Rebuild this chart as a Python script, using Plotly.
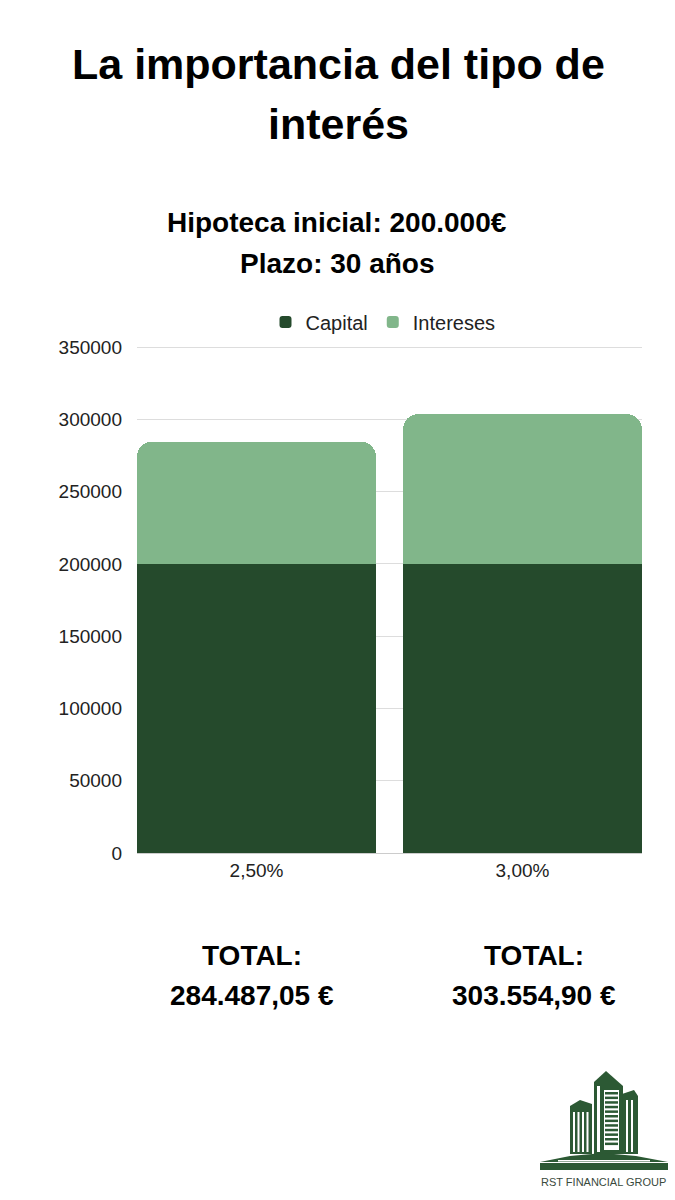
import plotly.graph_objects as go

# ---- data ----
categories = ["2,50%", "3,00%"]
capital = [200000, 200000]
intereses = [84487.05, 103554.90]
total_labels = ["284.487,05 €", "303.554,90 €"]
series_names = ["Capital", "Intereses"]
y_ticks = [0, 50000, 100000, 150000, 200000, 250000, 300000, 350000]

DARK = "#254a2c"
LIGHT = "#81b68a"
LOGO = "#2c5934"
FONT = "Liberation Sans, Arial, sans-serif"

W, H = 675, 1200
L, R, T, B = 137, 33, 345, 347
PW, PH = W - L - R, H - T - B
Y_TOP = 350000 * PH / 506.0  # keeps 350000 at the same pixel row, gridline visible


def px(x):
    return (x - L) / PW


def py(y):
    return (H - B - y) / PH


fig = go.Figure()
fig.add_bar(x=categories, y=capital, name=series_names[0], marker=dict(color=DARK, line=dict(width=0)))
fig.add_bar(x=categories, y=intereses, name=series_names[1], marker=dict(color=LIGHT, line=dict(width=0)))

annotations = []


def text(x, y, s, size, bold=True, color="#000000"):
    annotations.append(dict(
        x=px(x), y=py(y), xref="paper", yref="paper", xanchor="center", yanchor="middle",
        text=("<b>%s</b>" % s) if bold else s, showarrow=False,
        font=dict(family=FONT, size=size, color=color)))


text(338, 64, "La importancia del tipo de", 43)
text(338, 124, "interés", 43)
text(337, 222, "Hipoteca inicial: 200.000€", 28)
text(337, 263, "Plazo: 30 años", 28)
for cx, lab in zip([252, 534], total_labels):
    text(cx, 955, "TOTAL:", 28)
    text(cx, 995, lab, 28)
text(603, 1182, "RST FINANCIAL GROUP", 11, bold=False, color="#3a4a3c")

# ---- logo (decorative shapes) ----
shapes = []


def rect(x0, y0, x1, y1, color):
    shapes.append(dict(type="rect", xref="paper", yref="paper", x0=px(x0), x1=px(x1),
                       y0=py(y1), y1=py(y0), fillcolor=color, line=dict(width=0), layer="above"))


def poly(pts, color):
    path = "M " + " L ".join("%f,%f" % (px(a), py(b)) for a, b in pts) + " Z"
    shapes.append(dict(type="path", xref="paper", yref="paper", path=path,
                       fillcolor=color, line=dict(width=0), layer="above"))


# left building
poly([(570, 1106), (580, 1100), (592, 1104), (592, 1154), (570, 1154)], LOGO)
for i in range(4):
    rect(573 + i * 4.5, 1112, 575 + i * 4.5, 1152, "white")
# right building
poly([(622, 1094), (634, 1090), (638, 1096), (638, 1154), (622, 1154)], LOGO)
rect(626, 1100, 628, 1152, "white")
rect(631, 1100, 633, 1152, "white")
# centre tower
poly([(594, 1082), (606, 1071), (623, 1086), (623, 1154), (594, 1154)], LOGO)
rect(604, 1090, 619, 1150, "white")
for k in range(12):
    rect(605, 1092 + k * 4.6, 618, 1094.5 + k * 4.6, LOGO)
rect(597, 1086, 600, 1152, "white")
# base dome and slab
poly([(540, 1162), (570, 1156), (603, 1153), (636, 1156), (668, 1162)], LOGO)
rect(540, 1163, 668, 1170, LOGO)
rect(558, 1160, 650, 1161.5, "white")

fig.update_layout(
    width=W, height=H, autosize=False,
    margin=dict(l=L, r=R, t=T, b=B),
    paper_bgcolor="white", plot_bgcolor="white",
    barmode="stack", bargap=0.102, barcornerradius=15,
    font=dict(family=FONT, color="#222222"),
    showlegend=True,
    legend=dict(orientation="h", x=px(383), y=py(322), xanchor="center", yanchor="middle",
                font=dict(size=20, color="#222222"), traceorder="normal", itemwidth=30,
                bgcolor="rgba(0,0,0,0)"),
    xaxis=dict(type="category", range=[-0.4493, 1.4493], showgrid=False, showline=True,
               linecolor="#cccccc", linewidth=1, ticks="", tickfont=dict(size=19),
               ticklabelstandoff=0, fixedrange=True),
    yaxis=dict(range=[0, Y_TOP], tickvals=y_ticks, ticktext=[str(v) for v in y_ticks],
               showgrid=True, gridcolor="#dddddd", gridwidth=1, zeroline=False, showline=False,
               ticks="", tickfont=dict(size=19), ticklabelstandoff=14, fixedrange=True),
    annotations=annotations, shapes=shapes,
)

fig.write_html("out.html")
